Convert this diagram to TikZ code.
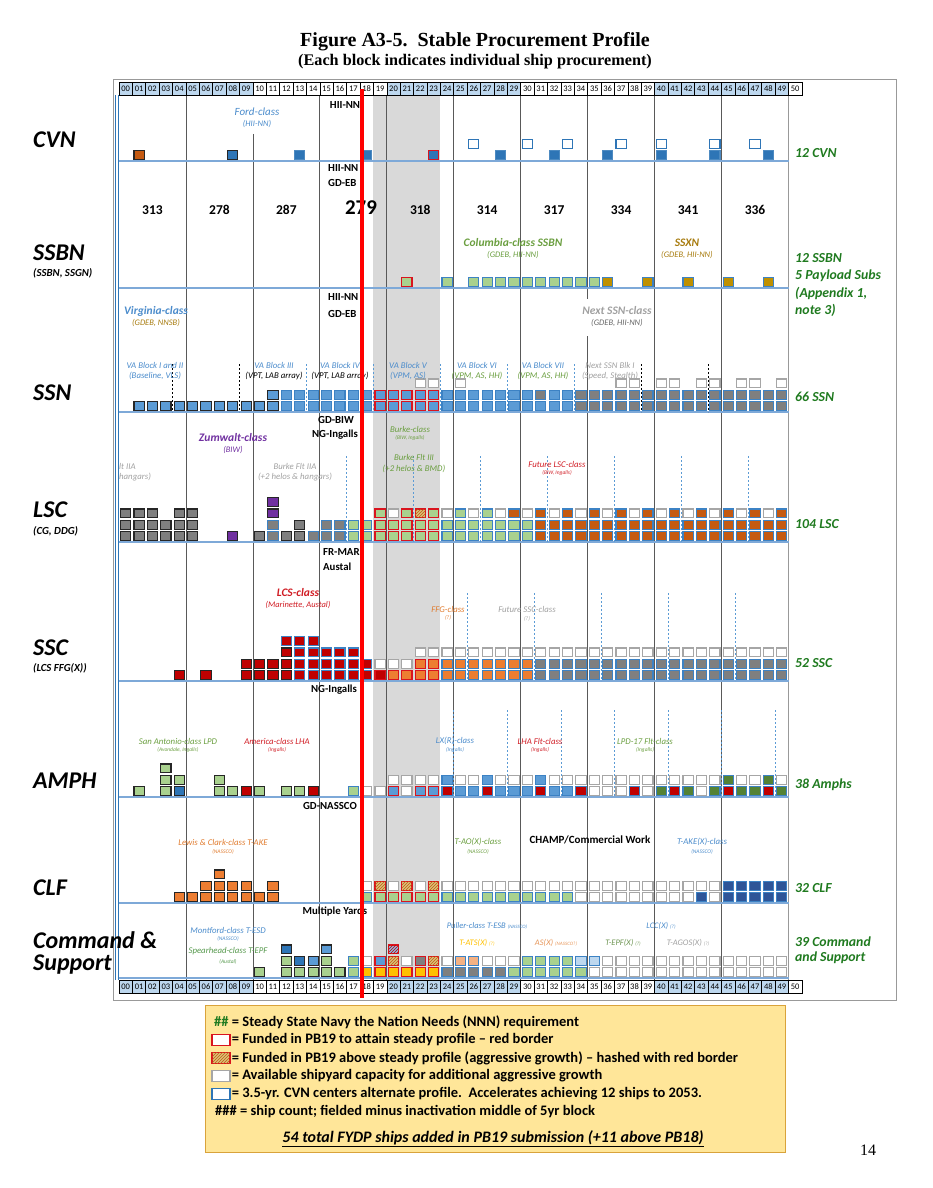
\documentclass[tikz,border=0pt]{standalone}
\usepackage{fontspec}
\setmainfont{Carlito}
\newfontfamily\serifhead{Liberation Serif}
\usepackage{tikz}
\usetikzlibrary{shapes.geometric}
\usetikzlibrary{arrows,shapes,patterns}
\usetikzlibrary{calc,chains,positioning}
\usepackage{xcolor}

\definecolor{hdrblue}{HTML}{BDD7EE}
\definecolor{rowline}{HTML}{7EA9D8}
\definecolor{band}{HTML}{D9D9D9}
\definecolor{sqblue}{HTML}{5B9BD5}
\definecolor{cvnblue}{HTML}{2E75B6}
\definecolor{dkblue}{HTML}{2F5597}
\definecolor{paleblue}{HTML}{BDD7EE}
\definecolor{edgeblue}{HTML}{3C82C4}
\definecolor{sqgreen}{HTML}{A9D18E}
\definecolor{dkgreen}{HTML}{548235}
\definecolor{sqgray}{HTML}{7F7F7F}
\definecolor{sqorange}{HTML}{C55A11}
\definecolor{ltorange}{HTML}{ED7D31}
\definecolor{peach}{HTML}{F4B183}
\definecolor{sqred}{HTML}{C00000}
\definecolor{redframe}{HTML}{D9141E}
\definecolor{sqgold}{HTML}{BF9000}
\definecolor{sqpurple}{HTML}{7030A0}
\definecolor{sqyellow}{HTML}{FFC000}
\definecolor{hatbg}{HTML}{D8C27A}
\definecolor{needgreen}{HTML}{1F7A1F}
\definecolor{legendfill}{HTML}{FFE699}
\definecolor{legendline}{HTML}{D9A33B}
\definecolor{txtblue}{HTML}{4A8BCB}
\definecolor{txtgreen}{HTML}{6A9E3F}
\definecolor{txtgold}{HTML}{A77B0E}
\definecolor{txtred}{HTML}{D01C24}
\definecolor{txtorange}{HTML}{E07B2E}
\definecolor{txtgray}{HTML}{A0A0A0}

% one row of ship blocks: name, base line, list of from/to/level/style
\newcommand{\shiprow}[3]{%
  \foreach \a/\b/\lv/\st in {#3}{
    \foreach \yy in {\a,...,\b}{
      \node[blk,\st] (#1-\yy-\lv) at ({119+13.39*(\yy+0.5)},{#2-6-11.3*(\lv-1)}) {};
    }
  }
}

\begin{document}
\begin{tikzpicture}[x=1pt,y=-1pt,
  yrcell/.style={rectangle, draw=black, line width=0.6pt, minimum width=13.39pt, minimum height=13pt,
    inner sep=0pt, outer sep=0pt, anchor=west, font=\fontsize{8.5}{9}\selectfont},
  blk/.style={rectangle, draw, line width=1.1pt, minimum width=10.2pt, minimum height=8.8pt, inner sep=0pt},
  blK/.style={fill=sqblue, draw=black!85}, blB/.style={fill=sqblue, draw=edgeblue}, blR/.style={fill=sqblue, draw=redframe},
  cbK/.style={fill=cvnblue, draw=black!85}, cbB/.style={fill=cvnblue, draw=cvnblue!85!white}, cbR/.style={fill=cvnblue, draw=redframe},
  cwB/.style={fill=white, draw=cvnblue}, dbB/.style={fill=dkblue, draw=edgeblue},
  pbB/.style={fill=paleblue, draw=edgeblue}, peB/.style={fill=peach, draw=edgeblue},
  gyK/.style={fill=sqgray, draw=black!85}, gyB/.style={fill=sqgray, draw=edgeblue}, gyR/.style={fill=sqgray, draw=redframe},
  gnK/.style={fill=sqgreen, draw=black!85}, gnB/.style={fill=sqgreen, draw=edgeblue}, gnR/.style={fill=sqgreen, draw=redframe},
  dgB/.style={fill=dkgreen, draw=edgeblue},
  orK/.style={fill=sqorange, draw=black!85}, orB/.style={fill=sqorange, draw=edgeblue},
  loK/.style={fill=ltorange, draw=black!85}, loB/.style={fill=ltorange, draw=edgeblue}, loR/.style={fill=ltorange, draw=redframe},
  rdK/.style={fill=sqred, draw=black!85}, rdB/.style={fill=sqred, draw=edgeblue}, rdR/.style={fill=sqred, draw=redframe},
  gdB/.style={fill=sqgold, draw=edgeblue}, puK/.style={fill=sqpurple, draw=black!85},
  ylB/.style={fill=sqyellow, draw=edgeblue}, ylR/.style={fill=sqyellow, draw=redframe},
  wtG/.style={fill=white, draw=black!35},
  hatR/.style={fill=hatbg, draw=redframe, postaction={pattern=north east lines, pattern color=sqorange}},
  hbR/.style={fill=sqblue!70, draw=redframe, postaction={pattern=north east lines, pattern color=sqred}},
  yard/.style={font=\bfseries\fontsize{10.8}{12}\selectfont, inner sep=0pt},
  cls/.style={font=\bfseries\itshape\fontsize{11.5}{12}\selectfont, inner sep=0pt},
  clsl/.style={font=\itshape\fontsize{11}{12}\selectfont, inner sep=0pt},
  blkl/.style={font=\itshape\fontsize{8.8}{10}\selectfont, inner sep=0pt},
  bldr/.style={font=\itshape\fontsize{8.5}{9}\selectfont, inner sep=0pt},
  tinyl/.style={font=\itshape\fontsize{5.5}{6}\selectfont, inner sep=0pt},
  cnt/.style={font=\bfseries\fontsize{13.5}{15}\selectfont, inner sep=0pt},
  rowname/.style={font=\bfseries\itshape\fontsize{24}{22}\selectfont, anchor=west, inner sep=0pt},
  rowsub/.style={font=\bfseries\itshape\fontsize{10.8}{12}\selectfont, anchor=west, inner sep=0pt},
  need/.style={font=\bfseries\itshape\fontsize{13.8}{15}\selectfont, text=needgreen, anchor=west, inner sep=0pt},
  legtxt/.style={font=\bfseries\fontsize{14.5}{16}\selectfont, anchor=west, inner sep=0pt},
  legbox/.style={rectangle, line width=1.2pt, minimum width=18pt, minimum height=11pt, inner sep=0pt},
  smallcls/.style={font=\itshape\fontsize{8.5}{9}\selectfont, inner sep=0pt},
  bdash/.style={sqblue, line width=0.6pt, dash pattern=on 2pt off 2pt},
  kdash/.style={black, line width=0.6pt, dash pattern=on 2pt off 2pt},
  rowsep/.style={rowline, line width=1.1pt},
  fiveyr/.style={black!65, line width=0.8pt}]

\useasboundingbox (0,0) rectangle (932,1188);

% title
\node[font=\serifhead\bfseries\fontsize{20}{22}\selectfont] (title) at (475,42) {Figure A3-5.\ \ Stable Procurement Profile};
\node[font=\serifhead\bfseries\fontsize{16.2}{18}\selectfont] (subtitle) at (475,62) {(Each block indicates individual ship procurement)};

% frame, band, grid
\draw[black!40, line width=0.6pt] (113,79) rectangle (896,1000);
\fill[band] ({119+13.39*19},95) rectangle ({119+13.39*24},980);
\draw[cvnblue, line width=0.8pt] (115.5,95) -- (115.5,980);
\draw[cvnblue, line width=0.8pt] (118.3,95) -- (118.3,980);
\foreach \k in {5,15,20,25,30,40,45}{
  \draw[fiveyr] ({119+13.39*\k},96) -- ({119+13.39*\k},980);
}
\draw[fiveyr] ({119+13.39*10},134) -- ({119+13.39*10},980);
\draw[fiveyr] ({119+13.39*35},96) -- ({119+13.39*35},299);
\draw[fiveyr] ({119+13.39*35},336) -- ({119+13.39*35},980);
\draw[black!40, line width=1.6pt] ({119+13.39*50},96) -- ({119+13.39*50},980);
\foreach \b in {161,288,412,542,681,797,903,978}{
  \draw[rowsep] (119,\b) -- ({119+13.39*50},\b);
}

% dashed block marks
\foreach \k in {14,19,24,29,34} \draw[bdash] ({119+13.39*\k},364) -- ({119+13.39*\k},412);
\foreach \k in {4,9,39,44} \draw[kdash] ({119+13.39*\k},364) -- ({119+13.39*\k},412);
\foreach \k in {17,22,27,32,37,42,47} \draw[bdash] ({119+13.39*\k},456) -- ({119+13.39*\k},542);
\foreach \k in {26,31,36,41,46} \draw[bdash] ({119+13.39*\k},593) -- ({119+13.39*\k},681);
\foreach \k in {25,29,33,37,41,45,49} \draw[bdash] ({119+13.39*\k},710) -- ({119+13.39*\k},797);

% year rulers
\begin{scope}[shift={(119,88.5)}, start chain=top going right, node distance=0pt]
  \foreach \n in {0,...,50}{
    \pgfmathtruncatemacro\dec{\n/10}
    \ifodd\dec \def\hc{white}\else\def\hc{hdrblue}\fi
    \node[yrcell, fill=\hc, on chain] (top\n) {\ifnum\n<10 0\fi\n};
  }
\end{scope}
\begin{scope}[shift={(119,987)}, start chain=bot going right, node distance=0pt]
  \foreach \n in {0,...,50}{
    \pgfmathtruncatemacro\dec{\n/10}
    \ifodd\dec \def\hc{white}\else\def\hc{hdrblue}\fi
    \node[yrcell, fill=\hc, on chain] (bot\n) {\ifnum\n<10 0\fi\n};
  }
\end{scope}

% ship blocks
\shiprow{cvn}{161}{1/1/1/orK, 8/8/1/cbK, 13/13/1/cbB, 18/18/1/cbB, 23/23/1/cbR, 28/28/1/cbB, 32/32/1/cbB,
  36/36/1/cbB, 40/40/1/cbB, 44/44/1/cbB, 48/48/1/cbB, 26/26/2/cwB, 30/30/2/cwB, 33/33/2/cwB,
  37/37/2/cwB, 40/40/2/cwB, 44/44/2/cwB, 47/47/2/cwB}
\shiprow{ssbn}{288}{21/21/1/gnR, 24/24/1/gnB, 26/35/1/gnB, 36/36/1/gdB, 39/39/1/gdB, 42/42/1/gdB,
  45/45/1/gdB, 48/48/1/gdB}
\shiprow{ssn}{412}{1/11/1/blK, 12/18/1/blB, 19/23/1/blR, 24/33/1/blB, 34/49/1/gyB,
  11/11/2/blK, 12/18/2/blB, 19/23/2/blR, 24/30/2/blB, 31/31/2/gyB, 32/33/2/blB, 34/49/2/gyB,
  22/23/3/wtG, 25/25/3/wtG, 37/38/3/wtG, 40/41/3/wtG, 43/44/3/wtG, 46/47/3/wtG, 49/49/3/wtG}
\shiprow{lsc}{542}{0/5/1/gyK, 8/8/1/puK, 10/10/1/gyK, 11/11/1/gyB, 12/13/1/gyK, 14/16/1/gyB, 17/18/1/gnB,
  19/23/1/gnR, 24/30/1/gnB, 31/49/1/orB,
  0/5/2/gyK, 11/11/2/gyB, 13/13/2/gyK, 15/16/2/gyB, 17/18/2/gnB, 19/23/2/gnR, 24/30/2/gnB, 31/49/2/orB,
  0/2/3/gyK, 4/5/3/gyK, 11/11/3/puK, 19/19/3/gnR, 20/20/3/wtG, 21/21/3/gnR, 22/22/3/hatR, 23/23/3/gnR,
  25/25/3/gnB, 27/27/3/gnB, 11/11/4/puK}
\foreach \yy in {24,26,...,48} \node[blk,wtG] (lsc-\yy-3) at ({119+13.39*(\yy+0.5)},{542-6-22.6}) {};
\foreach \yy in {29,31,...,49} \node[blk,orB] (lsc-\yy-3) at ({119+13.39*(\yy+0.5)},{542-6-22.6}) {};
\shiprow{ssc}{681}{4/4/1/rdK, 6/6/1/rdK, 9/12/1/rdK, 13/18/1/rdB, 19/19/1/rdR, 20/23/1/loR, 24/30/1/loB, 31/49/1/gyB,
  9/12/2/rdK, 13/18/2/rdB, 19/21/2/wtG, 22/23/2/loR, 24/30/2/loB, 31/49/2/gyB,
  12/12/3/rdK, 13/17/3/rdB, 22/49/3/wtG, 12/14/4/rdB}
\shiprow{amph}{797}{1/1/1/gnK, 3/3/1/gnK, 4/4/1/cbK, 7/8/1/gnK, 9/9/1/rdK, 10/10/1/gnK, 12/13/1/gnK, 14/14/1/rdK,
  17/17/1/gnB, 18/19/1/wtG, 20/20/1/blR, 21/21/1/wtG, 22/23/1/blR, 24/24/1/rdB, 25/26/1/blB, 27/27/1/rdB,
  28/30/1/blB, 31/31/1/rdB, 32/33/1/blB, 34/34/1/rdB, 35/37/1/wtG, 38/38/1/rdB, 39/39/1/wtG, 40/40/1/dgB,
  41/41/1/rdB, 42/42/1/dgB, 43/43/1/wtG, 44/44/1/dgB, 45/45/1/rdB, 46/47/1/dgB, 48/48/1/rdB, 49/49/1/dgB,
  3/4/2/gnK, 7/7/2/gnK, 20/23/2/wtG, 24/24/2/blB, 25/26/2/wtG, 27/27/2/blB, 28/30/2/wtG, 31/31/2/blB,
  32/44/2/wtG, 45/45/2/dgB, 46/47/2/wtG, 48/48/2/dgB, 49/49/2/wtG, 3/3/3/gnK}
\shiprow{clf}{903}{4/11/1/loK, 18/18/1/gnB, 19/23/1/gnR, 24/33/1/gnB, 34/42/1/wtG, 43/43/1/dbB, 44/44/1/wtG,
  45/49/1/dbB,
  6/9/2/loK, 11/11/2/loK, 18/18/2/wtG, 19/19/2/hatR, 20/20/2/wtG, 21/21/2/hatR, 22/22/2/wtG, 23/23/2/hatR,
  24/44/2/wtG, 45/49/2/dbB, 7/7/3/loK}
\shiprow{cs}{978}{10/10/1/gnK, 12/16/1/gnK, 17/17/1/gnB, 18/18/1/ylB, 19/23/1/ylR, 24/28/1/gyB, 29/34/1/gnB,
  35/49/1/wtG,
  12/12/2/gnK, 13/13/2/cbK, 14/14/2/blK, 15/15/2/gnK, 17/17/2/gnB, 18/18/2/wtG, 19/19/2/blR, 20/20/2/hatR,
  21/21/2/wtG, 22/22/2/gyR, 23/23/2/hatR, 24/24/2/wtG, 25/26/2/peB, 27/29/2/wtG, 30/33/2/gnB, 34/35/2/pbB,
  36/49/2/wtG, 12/12/3/cbK, 15/15/3/blK, 20/20/3/hbR}

% row names
\node[rowname] (cvnname) at (33,140) {CVN};
\node[rowname] (ssbnname) at (33,253) {SSBN};
\node[rowsub] (ssbnsub) at (33,273) {(SSBN, SSGN)};
\node[rowname] (ssnname) at (33,393) {SSN};
\node[rowname] (lscname) at (33,510) {LSC};
\node[rowsub] (lscsub) at (33,531) {(CG, DDG)};
\node[rowname] (sscname) at (33,648) {SSC};
\node[rowsub] (sscsub) at (33,668) {(LCS FFG(X))};
\node[rowname] (amphname) at (33,781) {AMPH};
\node[rowname] (clfname) at (33,888) {CLF};
\node[rowname, align=left] (csname) at (33,953) {Command \&\\Support};

% requirements
\node[need] (cvnneed) at (795,153) {12 CVN};
\node[need] (ssbnneed) at (795,258) {12 SSBN};
\node[need] (ssbnneed2) at (795,276) {5 Payload Subs};
\node[need] (ssbnneed3) at (795,293) {(Appendix 1,};
\node[need] (ssbnneed4) at (795,310) {note 3)};
\node[need] (ssnneed) at (795,397) {66 SSN};
\node[need] (lscneed) at (795,524) {104 LSC};
\node[need] (sscneed) at (795,663) {52 SSC};
\node[need] (amphneed) at (795,785) {38 Amphs};
\node[need] (clfneed) at (795,888) {32 CLF};
\node[need, align=left, font=\bfseries\itshape\fontsize{13.8}{14.5}\selectfont] (csneed) at (795,950) {39 Command\\and Support};

% CVN
\node[yard] (cvnyd) at (345,105) {HII-NN};
\node[clsl, text=txtblue] (fordcls) at (257,112) {Ford-class};
\node[bldr, text=txtblue] (fordyd) at (257,124) {(HII-NN)};
% SSBN
\node[yard, anchor=west] (ssbnyd) at (328,168) {HII-NN};
\node[yard, anchor=west] (ssbnyd2) at (328,183) {GD-EB};
\foreach \k/\v in {2/313, 7/278, 12/287, 22/318, 27/314, 32/317, 37/334, 42/341, 47/336}{
  \node[cnt] (bf\k) at ({119+13.39*(\k+0.5)},210) {\v};
}
\node[font=\bfseries\fontsize{21}{23}\selectfont, inner sep=0pt] (bf17) at (361,208) {279};
\node[cls, text=txtgreen] (colcls) at (513,243) {Columbia-class SSBN};
\node[bldr, text=txtgreen] (colyd) at (513,255) {(GDEB, HII-NN)};
\node[cls, text=txtgold] (ssxncls) at (687,243) {SSXN};
\node[bldr, text=txtgold] (ssxnyd) at (687,255) {(GDEB, HII-NN)};
% SSN
\node[yard, anchor=west] (ssnyd) at (328,297) {HII-NN};
\node[yard, anchor=west] (ssnyd2) at (328,314) {GD-EB};
\node[cls, text=txtblue] (vacls) at (156,311) {Virginia-class};
\node[bldr, text=txtgold] (vayd) at (156,323) {(GDEB, NNSB)};
\node[cls, text=txtgray] (nxtcls) at (617,311) {Next SSN-class};
\node[bldr, text=black!60] (nxtyd) at (617,323) {(GDEB, HII-NN)};
\foreach \n/\x/\t/\s/\tc/\c in {b1/155/{VA Block I and II}/{(Baseline, VLS)}/txtblue/txtblue,
  b3/274/{VA Block III}/{(VPT, LAB array)}/txtblue/black, b4/340/{VA Block IV}/{(VPT, LAB array)}/txtblue/black,
  b5/408/{VA Block V}/{(VPM, AS)}/txtblue/txtblue, b6/477/{VA Block VI}/{(VPM, AS, HH)}/txtblue/txtgreen,
  b7/543/{VA Block VII}/{(VPM, AS, HH)}/txtblue/txtgreen, b8/610/{Next SSN Blk I}/{(Speed, Stealth)}/txtgray/txtgray}{
  \node[blkl, text=\tc] (\n t) at (\x,365) {\t};
  \node[blkl, text=\c] (\n s) at (\x,376) {\s};
}
% LSC
\node[yard] (lscyd) at (336,420) {GD-BIW};
\node[yard] (lscyd2) at (335,435) {NG-Ingalls};
\node[cls, text=sqpurple] (zumcls) at (233,438) {Zumwalt-class};
\node[bldr, text=sqpurple] (zumyd) at (233,450) {(BIW)};
\node[blkl, text=txtgray, anchor=west] (iiacut) at (119,466) {lt IIA};
\node[blkl, text=txtgray, anchor=west] (iiacut2) at (119,477) {hangars)};
\node[blkl, text=txtgray] (iiacls) at (295,466) {Burke Flt IIA};
\node[blkl, text=txtgray] (iiayd) at (295,477) {(+2 helos \& hangars)};
\node[blkl, text=txtgreen] (burkecls) at (410,429) {Burke-class};
\node[tinyl, text=txtgreen] (burkeyd) at (410,438) {(BIW, Ingalls)};
\node[blkl, text=txtgreen] (iiicls) at (414,457) {Burke Flt III};
\node[blkl, text=txtgreen] (iiiyd) at (414,469) {(+2 helos \& BMD)};
\node[blkl, text=txtred] (flsccls) at (557,464) {Future LSC-class};
\node[tinyl, text=txtred] (flscyd) at (557,473) {(BIW, Ingalls)};
% SSC
\node[yard, anchor=west] (sscyd) at (323,552) {FR-MAR};
\node[yard, anchor=west] (sscyd2) at (323,567) {Austal};
\node[cls, text=txtred] (lcscls) at (298,593) {LCS-class};
\node[bldr, text=txtred] (lcsyd) at (298,605) {(Marinette, Austal)};
\node[blkl, text=txtorange] (ffgcls) at (448,609) {FFG-class};
\node[tinyl, text=txtorange] (ffgyd) at (448,618) {(?)};
\node[blkl, text=txtgray] (fsscls) at (527,609) {Future SSC-class};
\node[tinyl, text=txtgray] (fsscyd) at (527,619) {(?)};
% AMPH
\node[yard] (amphyd) at (334,690) {NG-Ingalls};
\foreach \n/\x/\t/\s/\c in {lpd/178/{San Antonio-class LPD}/{(Avondale, Ingalls)}/txtgreen,
  lha/277/{America-class LHA}/{(Ingalls)}/txtred, lxr/455/{LX(R)-class}/{(Ingalls)}/txtblue,
  lhaf/540/{LHA Flt-class}/{(Ingalls)}/txtred, lpdf/645/{LPD-17 Flt-class}/{(Ingalls)}/txtgreen}{
  \node[blkl, text=\c] (\n cls) at (\x,741) {\t};
  \node[tinyl, text=\c] (\n yd) at (\x,750) {\s};
}
% CLF
\node[yard] (clfyd) at (330,806) {GD-NASSCO};
\foreach \n/\x/\t/\c in {take/223/{Lewis \& Clark-class T-AKE}/txtorange, tao/478/{T-AO(X)-class}/txtgreen,
  takx/702/{T-AKE(X)-class}/txtblue}{
  \node[blkl, text=\c] (\n cls) at (\x,842) {\t};
  \node[tinyl, text=\c] (\n yd) at (\x,852) {(NASSCO)};
}
\node[font=\bfseries\fontsize{11}{12}\selectfont, inner sep=0pt] (champ) at (590,840) {CHAMP/Commercial Work};
% Command and Support
\node[yard] (csyd) at (335,912) {Multiple Yards};
\node[blkl, text=txtblue] (esdcls) at (228,930) {Montford-class T-ESD};
\node[tinyl, text=txtblue] (esdyd) at (228,939) {(NASSCO)};
\node[blkl, text=txtgreen!80!teal] (epfcls) at (228,951) {Spearhead-class T-EPF};
\node[tinyl, text=txtgreen!80!teal] (epfyd) at (228,962) {(Austal)};
\node[smallcls, text=txtblue] (esbcls) at (487,926) {Puller-class T-ESB {\fontsize{5}{6}\selectfont(NASSCO)}};
\node[smallcls, text=txtblue] (lcccls) at (661,926) {LCC(X) {\fontsize{5}{6}\selectfont(?)}};
\node[smallcls, text=sqyellow] (atscls) at (477,943) {T-ATS(X) {\fontsize{5}{6}\selectfont(?)}};
\node[smallcls, text=txtorange!80] (ascls) at (556,943) {AS(X) {\fontsize{5}{6}\selectfont(NASSCO?)}};
\node[smallcls, text=dkgreen!85] (epfxcls) at (623,943) {T-EPF(X) {\fontsize{5}{6}\selectfont(?)}};
\node[smallcls, text=txtgray] (agoscls) at (688,943) {T-AGOS(X) {\fontsize{5}{6}\selectfont(?)}};

% funding line
\draw[red, line width=3.5pt] (362,89) -- (362,998);

% legend
\node[rectangle, draw=legendline, fill=legendfill, line width=1pt, minimum width=580pt, minimum height=147pt,
  anchor=north west, inner sep=0pt] (legend) at (205,1005) {};
\node[legtxt] (lg1) at (214,1022) {\textcolor{needgreen}{\#\#} = Steady State Navy the Nation Needs (NNN) requirement};
\node[legbox, draw=redframe, fill=white] (ic2) at (221,1040) {};
\node[legtxt, right=1pt of ic2] (lg2) {= Funded in PB19 to attain steady profile -- red border};
\node[legbox, draw=redframe, fill=hatbg, postaction={pattern=north east lines, pattern color=sqorange}] (ic3) at (221,1058) {};
\node[legtxt, right=1pt of ic3] (lg3) {= Funded in PB19 above steady profile (aggressive growth) -- hashed with red border};
\node[legbox, draw=black!35, fill=white] (ic4) at (221,1076) {};
\node[legtxt, right=1pt of ic4] (lg4) {= Available shipyard capacity for additional aggressive growth};
\node[legbox, draw=cvnblue, fill=white] (ic5) at (221,1094) {};
\node[legtxt, right=1pt of ic5] (lg5) {= 3.5-yr. CVN centers alternate profile.\ \ Accelerates achieving 12 ships to 2053.};
\node[legtxt] (lg6) at (215,1112) {\#\#\# = ship count; fielded minus inactivation middle of 5yr block};
\node[font=\bfseries\itshape\fontsize{16}{18}\selectfont, inner sep=0pt] (lg7) at (493,1139)
  {\underline{54 total FYDP ships added in PB19 submission (+11 above PB18)}};

% page number
\node[font=\serifhead\fontsize{16}{18}\selectfont] (page) at (868,1150) {14};
\end{tikzpicture}
\end{document}
